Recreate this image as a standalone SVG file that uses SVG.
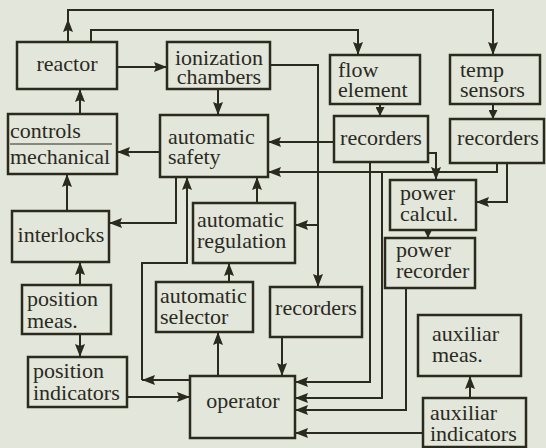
<svg xmlns="http://www.w3.org/2000/svg" width="546" height="448" viewBox="0 0 546 448">
<style>
.box{fill:none;stroke:#2a2a1f;stroke-width:2.5}
.ln{fill:none;stroke:#2a2a1f;stroke-width:2}
.a{marker-end:url(#ah)}
.s{marker-end:url(#ahs)}
text{font-family:Liberation Serif,Tinos,FreeSerif,Nimbus Roman,DejaVu Serif,Times,serif;font-size:22px;fill:#2a2a1f}
.c{text-anchor:middle}
</style>
<defs>
<marker id="ah" markerUnits="userSpaceOnUse" markerWidth="13" markerHeight="10" refX="13" refY="5" orient="auto"><path d="M0,0 L13,5 L0,10 L2,5 z" fill="#2a2a1f"/></marker>
<marker id="ahs" markerUnits="userSpaceOnUse" markerWidth="9" markerHeight="9" refX="9" refY="4.5" orient="auto"><path d="M0,0 L9,4.5 L0,9 z" fill="#2a2a1f"/></marker>
</defs>
<rect width="546" height="448" fill="#e3e6da"/>

<g id="connectors">
<path class="ln a" d="M68,42 L68,19"/>
<path class="ln a" d="M68,19 L68,10 L493,10 L493,55"/>
<path class="ln a" d="M91,42 L91,30 L358,30 L358,55"/>
<path class="ln a" d="M117,67 L167,67"/>
<path class="ln a" d="M218,89 L218,115"/>
<path class="ln a" d="M80,114 L80,89"/>
<path class="ln a" d="M160,152 L117,152"/>
<path class="ln a" d="M67,211 L67,174"/>
<path class="ln a" d="M176,177 L176,223 L109,223"/>
<path class="ln a" d="M190,380 L142,380"/>
<path class="ln a" d="M142,380 L142,263 L187,263 L187,177"/>
<path class="ln a" d="M229,282 L229,263"/>
<path class="ln a" d="M218,376 L218,332"/>
<path class="ln a" d="M257,203 L257,177"/>
<path class="ln a" d="M334,142 L268,142"/>
<path class="ln a" d="M497,163 L497,172 L268,172"/>
<path class="ln a" d="M507,163 L507,202 L476,202"/>
<path class="ln a" d="M428,153 L436,153 L436,180"/>
<path class="ln a" d="M270,65 L318,65 L318,287"/>
<path class="ln a" d="M318,225 L295,225"/>
<path class="ln a" d="M370,162 L370,382 L295,382"/>
<path class="ln a" d="M382,172 L382,398 L295,398"/>
<path class="ln a" d="M406,288 L406,410 L295,410"/>
<path class="ln a" d="M423,433 L295,433"/>
<path class="ln a" d="M470,398 L470,376"/>
<path class="ln s" d="M428,230 L428,238"/>
<path class="ln s" d="M380,104 L380,116"/>
<path class="ln s" d="M493,104 L493,119"/>
<path class="ln a" d="M282,337 L282,376"/>
<path class="ln a" d="M80,285 L80,262"/>
<path class="ln a" d="M80,334 L80,357"/>
<path class="ln a" d="M127,397 L190,397"/>
</g>

<g id="reactor"><rect class="box" x="17" y="42" width="100" height="47"/><text class="c" x="67" y="71">reactor</text></g>
<g id="ionization"><rect class="box" x="167" y="42" width="103" height="47"/><text class="c" x="219" y="65">ionization</text><text class="c" x="219" y="84">chambers</text></g>
<g id="flow"><rect class="box" x="330" y="55" width="90" height="49"/><text x="338" y="77">flow</text><text x="338" y="97">element</text></g>
<g id="temp"><rect class="box" x="450" y="55" width="90" height="49"/><text x="460" y="77">temp</text><text x="460" y="97">sensors</text></g>
<g id="recorders1"><rect class="box" x="334" y="116" width="94" height="46"/><text class="c" x="381" y="145">recorders</text></g>
<g id="recorders2"><rect class="box" x="450" y="119" width="94" height="44"/><text class="c" x="498" y="145">recorders</text></g>
<g id="safety"><rect class="box" x="160" y="115" width="108" height="62"/><text x="168" y="144">automatic</text><text x="168" y="164">safety</text></g>
<g id="controls"><rect class="box" x="8" y="114" width="109" height="60"/><text x="10" y="138">controls</text><line class="ln" x1="10" y1="144" x2="112" y2="144" style="stroke-width:1.2"/><text x="10" y="164">mechanical</text></g>
<g id="interlocks"><rect class="box" x="12" y="211" width="97" height="51"/><text class="c" x="61" y="242">interlocks</text></g>
<g id="posmeas"><rect class="box" x="22" y="285" width="89" height="49"/><text x="27" y="306">position</text><text x="27" y="328">meas.</text></g>
<g id="posind"><rect class="box" x="28" y="357" width="99" height="50"/><text x="33" y="378">position</text><text x="33" y="400">indicators</text></g>
<g id="regulation"><rect class="box" x="193" y="203" width="102" height="60"/><text x="197" y="227">automatic</text><text x="197" y="248">regulation</text></g>
<g id="selector"><rect class="box" x="156" y="282" width="97" height="50"/><text x="160" y="303">automatic</text><text x="160" y="324">selector</text></g>
<g id="recorders3"><rect class="box" x="270" y="287" width="92" height="50"/><text class="c" x="316" y="315">recorders</text></g>
<g id="operator"><rect class="box" x="190" y="376" width="105" height="62"/><text class="c" x="243" y="408">operator</text></g>
<g id="powercalc"><rect class="box" x="390" y="180" width="86" height="50"/><text x="400" y="200">power</text><text x="400" y="221">calcul.</text></g>
<g id="powerrec"><rect class="box" x="385" y="238" width="90" height="50"/><text x="396" y="257">power</text><text x="396" y="278">recorder</text></g>
<g id="auxmeas"><rect class="box" x="418" y="315" width="103" height="61"/><text x="432" y="341">auxiliar</text><text x="432" y="362">meas.</text></g>
<g id="auxind"><rect class="box" x="423" y="398" width="103" height="49"/><text x="430" y="420">auxiliar</text><text x="430" y="441">indicators</text></g>
</svg>
